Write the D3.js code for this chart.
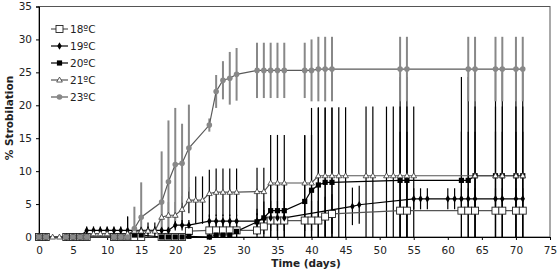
<!DOCTYPE html>
<html>
<head>
<meta charset="utf-8">
<script src="https://cdn.jsdelivr.net/npm/d3@7"></script>
<style>
  body { margin: 0; background: #fff; }
  svg { display: block; font-family: "DejaVu Sans", Verdana, sans-serif; }
</style>
</head>
<body>
<div id="chart"></div>
<script>
// 18ºC
const days18 = [0,1,4,5,6,7,11,12,13,14,15,18,19,20,21,22,25,26,27,28,29,32,33,34,35,36,39,40,41,42,43,53,54,62,63,64,67,68,70,71];
const pct18  = [0,0,0,0,0,0,0,0,0,0,0,0,0,0,0,0.9,1.0,1.0,1.0,1.0,1.0,1.0,1.6,2.5,2.5,2.5,2.5,2.5,2.5,3.1,3.5,4.0,4.0,4.0,4.0,4.0,4.0,4.0,4.0,4.0];
const err18  = [0,0,0,0,0,0,0,0,0,0,0,0,0,0,0,1.2,1.5,1.5,1.5,1.5,1.5,1.5,2.0,3.0,3.0,3.0,3.0,3.0,3.0,3.0,3.0,12,12,12,12,12,12,12,12,12];

// 19ºC
const days19 = [0,1,4,5,6,7,8,9,10,11,12,13,14,15,16,17,18,19,20,21,22,25,26,27,28,29,32,33,34,35,36,46,47,55,56,57,60,61,62,63,64,67,68,70,71];
const pct19  = [0,0,0,0,0,1.0,1.0,1.0,1.0,1.0,1.0,1.0,1.0,1.0,1.0,1.0,1.0,1.0,1.8,1.8,1.8,2.4,2.4,2.4,2.4,2.4,2.4,2.9,2.9,2.9,2.9,4.65,4.9,5.8,5.8,5.8,5.8,5.8,5.8,5.8,5.8,5.8,5.8,5.8,5.8];
const err19  = [0,0,0,0,0,0.6,0.6,0.6,0.6,0.6,0.6,2.1,0.6,0.6,0.6,0.6,0.6,0.6,0.8,0.8,0.8,1.0,1.0,1.0,1.0,1.0,1.2,1.2,1.2,1.2,1.2,2.85,2.9,1.6,1.6,1.6,1.6,1.6,1.6,1.6,1.6,1.6,1.6,1.6,1.6];

// 20ºC
const days20 = [0,1,4,5,6,7,11,12,13,14,15,18,19,20,21,22,25,26,27,28,29,32,33,34,35,36,39,40,41,42,43,53,54,62,63,64,67,68,70,71];
const pct20  = [0,0,0,0,0,0,0,0,0,0.3,0.3,0,0,0,0,0.1,0,0.3,0.3,0.3,0.85,2.3,2.9,4.0,4.0,4.0,5.4,7.1,7.9,8.3,8.3,8.6,8.6,8.6,8.6,9.3,9.3,9.3,9.3,9.3];
const err20  = [0,0,0,0,0,0,0,0,0,0.5,0.5,0,0,0,0,0.3,0,0.5,0.5,0.5,1.0,2.0,2.5,4.0,4.0,4.0,10,12.5,11.7,11.3,11.3,15.7,15.7,15.7,15.7,15.7,15.7,15.7,15.7,15.7];

// 21ºC
const days21 = [2,3,8,9,10,13,14,15,16,17,18,19,20,21,22,23,24,25,26,27,28,29,32,33,34,35,36,39,40,41,42,43,44,45,48,49,51,52,53,54,55,64,67,68,70,71];
const pct21  = [0,0,0.5,0.5,0.5,0.5,0.9,0.9,0.9,0.9,3.0,3.3,3.3,4.2,5.6,5.6,5.6,6.6,6.8,6.8,6.8,6.8,6.9,6.9,8.2,8.2,8.2,8.2,8.2,9.3,9.3,9.3,9.3,9.3,9.3,9.3,9.3,9.3,9.3,9.3,9.3,9.3,9.3,9.3,9.3,9.3];
const err21  = [0,0,0.4,0.4,0.4,2.6,0.7,0.7,1.3,1.3,2.0,2.0,2.0,2.0,2.0,3.6,3.6,3.6,3.6,3.6,3.6,3.6,3.6,3.6,7.3,7.3,7.3,7.3,7.3,10.4,10.4,10.4,10.4,10.4,10.5,10.5,10.5,10.5,10.5,10.5,10.5,10.5,10.5,10.5,10.5,10.5];

// 23ºC
const days23 = [0,1,4,5,6,7,11,12,13,14,15,18,19,20,21,22,25,26,27,28,29,32,33,34,35,36,39,40,41,42,43,53,54,63,64,67,68,70,71];
const pct23  = [0,0,0,0,0,0,0,0,0,1.3,3.0,5.3,8.4,11.0,11.2,13.5,17.0,22.1,23.8,24.1,24.7,25.3,25.3,25.3,25.3,25.3,25.3,25.3,25.5,25.5,25.5,25.5,25.5,25.5,25.5,25.5,25.5,25.5,25.5];
const err23  = [0,0,0,0,0,0,0,0,0,3.3,5.3,7.7,9.3,8.6,6.0,6.6,1.0,2.5,2.9,4.0,4.0,4.2,4.2,4.2,4.2,4.2,4.2,4.7,4.9,4.9,4.9,4.9,4.9,4.9,4.9,4.9,4.9,4.9,4.9];

const xTicks = [0,5,10,15,20,25,30,35,40,45,50,55,60,65,70,75];
const yTicks = [0,5,10,15,20,25,30,35];

const series = [
  { name: '18ºC', days: days18, pct: pct18, err: err18, line: '#555', bar: '#000', shape: 'bigSquare' },
  { name: '19ºC', days: days19, pct: pct19, err: err19, line: '#000', bar: '#000', shape: 'diamond' },
  { name: '20ºC', days: days20, pct: pct20, err: err20, line: '#000', bar: '#000', shape: 'square' },
  { name: '21ºC', days: days21, pct: pct21, err: err21, line: '#555', bar: '#000', shape: 'triangle' },
  { name: '23ºC', days: days23, pct: pct23, err: err23, line: '#5a5a5a', bar: '#888', shape: 'circle' }
];

const W = 558, H = 274;
const margin = { top: 6.5, right: 8, bottom: 37, left: 39 };

const svg = d3.select('#chart').append('svg')
  .attr('width', W)
  .attr('height', H);

const x = d3.scaleLinear().domain([0, 75]).range([margin.left, W - margin.right]);
const y = d3.scaleLinear().domain([0, 35]).range([H - margin.bottom, margin.top]);

// frame
svg.append('rect')
  .attr('x', x(0)).attr('y', y(35))
  .attr('width', x(75) - x(0)).attr('height', y(0) - y(35))
  .attr('fill', 'none').attr('stroke', '#555').attr('stroke-width', 1);

// axes
const xAxis = svg.append('g')
  .attr('transform', `translate(0,${y(0)})`)
  .call(d3.axisBottom(x).tickValues(xTicks).tickSize(3).tickPadding(7));
const yAxis = svg.append('g')
  .attr('transform', `translate(${x(0)},0)`)
  .call(d3.axisLeft(y).tickValues(yTicks).tickSize(3).tickPadding(4));

[xAxis, yAxis].forEach(g => {
  g.select('.domain').attr('stroke', '#000');
  g.selectAll('.tick line').attr('stroke', '#000');
  g.selectAll('text').attr('fill', '#222').style('font-size', '10.5px')
    .style('font-family', '"DejaVu Sans", Verdana, sans-serif');
});

// error bars
series.forEach(s => {
  const pts = s.days.map((d, i) => ({ d, v: s.pct[i], e: s.err[i] })).filter(p => p.e > 0);
  svg.append('g').selectAll('line')
    .data(pts)
    .enter()
    .append('line')
    .attr('x1', p => x(p.d)).attr('x2', p => x(p.d))
    .attr('y1', p => y(Math.min(35, p.v + p.e)))
    .attr('y2', p => y(Math.max(0, p.v - p.e)))
    .attr('stroke', s.bar)
    .attr('stroke-width', s.bar === '#000' ? 1.2 : 2);
});

// lines
const line = d3.line().x(p => x(p.d)).y(p => y(p.v));
series.forEach(s => {
  const pts = s.days.map((d, i) => ({ d, v: s.pct[i] }));
  svg.append('path')
    .datum(pts)
    .attr('fill', 'none')
    .attr('stroke', s.line)
    .attr('stroke-width', 1.2)
    .attr('d', line);
});

function drawMarker(g, shape, cx, cy) {
  if (shape === 'bigSquare') {
    g.append('rect').attr('x', cx - 3.5).attr('y', cy - 3.5).attr('width', 7).attr('height', 7)
      .attr('fill', '#fff').attr('stroke', '#222').attr('stroke-width', 0.9);
  } else if (shape === 'square') {
    g.append('rect').attr('x', cx - 2.6).attr('y', cy - 2.6).attr('width', 5.2).attr('height', 5.2)
      .attr('fill', '#000');
  } else if (shape === 'diamond') {
    g.append('path').attr('d', d3.symbol(d3.symbolDiamond, 17)()).attr('transform', `translate(${cx},${cy})`)
      .attr('fill', '#000');
  } else if (shape === 'triangle') {
    g.append('path').attr('d', d3.symbol(d3.symbolTriangle, 14)()).attr('transform', `translate(${cx},${cy + 0.4})`)
      .attr('fill', '#fff').attr('stroke', '#333').attr('stroke-width', 0.8);
  } else {
    g.append('circle').attr('cx', cx).attr('cy', cy).attr('r', 2.8).attr('fill', '#888');
  }
}

// markers
series.forEach(s => {
  const g = svg.append('g');
  s.days.forEach((d, i) => drawMarker(g, s.shape, x(d), y(s.pct[i])));
});

// legend
const legend = svg.append('g');
series.forEach((s, i) => {
  const ly = 29 + i * 17;
  legend.append('line').attr('x1', 51).attr('x2', 68).attr('y1', ly).attr('y2', ly)
    .attr('stroke', s.line).attr('stroke-width', 1.2);
  drawMarker(legend, s.shape, 59.5, ly);
  legend.append('text').attr('x', 70).attr('y', ly).attr('dy', '0.36em')
    .style('font-size', '10.5px').attr('fill', '#222').text(s.name);
});

// axis titles
svg.append('text')
  .attr('x', 306).attr('y', 267)
  .attr('text-anchor', 'middle')
  .style('font-size', '10.5px').style('font-weight', 'bold').attr('fill', '#222')
  .text('Time (days)');

svg.append('text')
  .attr('transform', 'translate(13,118) rotate(-90)')
  .attr('text-anchor', 'middle')
  .style('font-size', '10.5px').style('font-weight', 'bold').attr('fill', '#222')
  .text('% Strobilation');
</script>
</body>
</html>
